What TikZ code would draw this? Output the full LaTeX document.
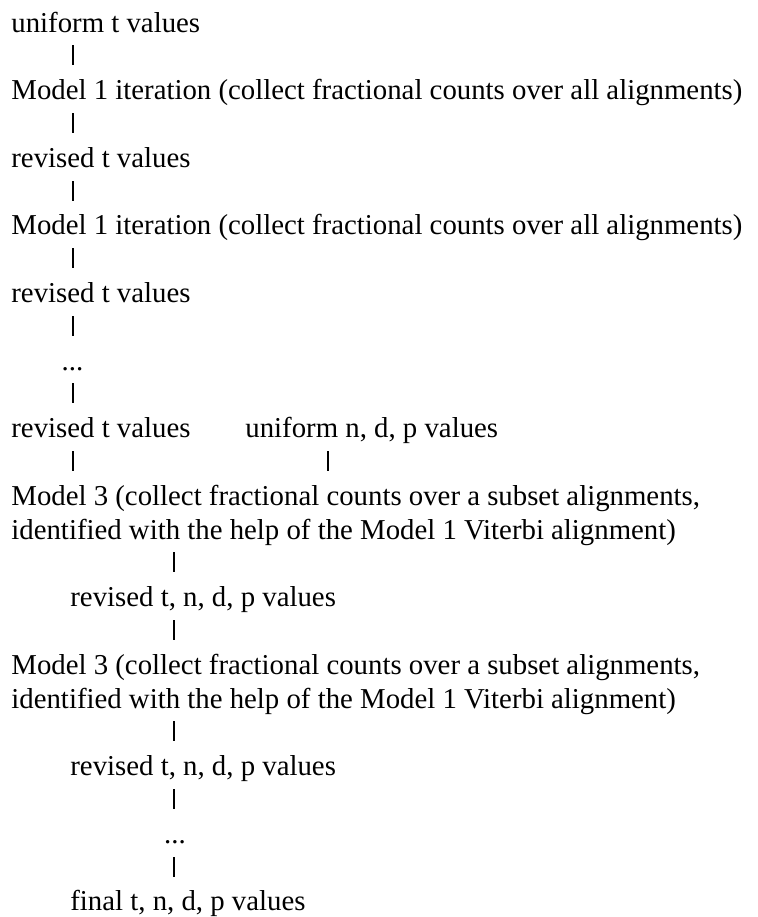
\documentclass[tikz,border=0pt]{standalone}
\usepackage{fontspec}
\setmainfont{Liberation Serif}
\begin{document}
\begin{tikzpicture}[x=0.5pt,y=-0.5pt,
  txt/.style={anchor=base west,inner sep=0pt,font=\fontsize{14.4}{17}\selectfont},
  dots/.style={anchor=base,inner sep=0pt,font=\fontsize{14.4}{17}\selectfont},
  bar/.style={fill=black,draw=none,inner sep=0pt,minimum width=1pt,minimum height=10pt,anchor=south}]
\useasboundingbox (0,0) rectangle (757,917);
\fill[white] (0,0) rectangle (757,917);
\node[txt] (r0) at (11,32) {uniform t values};
\node[bar] (b1) at (72.5,65.8) {};
\node[txt] (r2) at (11,99.6) {Model 1 iteration (collect fractional counts over all alignments)};
\node[bar] (b3) at (72.5,133.4) {};
\node[txt] (r4) at (11,167.2) {revised t values};
\node[bar] (b5) at (72.5,201) {};
\node[txt] (r6) at (11,234.8) {Model 1 iteration (collect fractional counts over all alignments)};
\node[bar] (b7) at (72.5,268.6) {};
\node[txt] (r8) at (11,302.4) {revised t values};
\node[bar] (b9) at (72.5,336.2) {};
\node[dots] (r10) at (72.5,370) {...};
\node[bar] (b11) at (72.5,403.8) {};
\node[txt] (r12) at (11,437.6) {revised t values};
\node[txt] (r12b) at (245,437.6) {uniform n, d, p values};
\node[bar] (b13) at (72.5,471.4) {};
\node[bar] (b13b) at (327.5,471.4) {};
\node[txt] (r14) at (11,505.2) {Model 3 (collect fractional counts over a subset alignments,};
\node[txt] (r15) at (11,539) {identified with the help of the Model 1 Viterbi alignment)};
\node[bar] (b16) at (173.5,572.8) {};
\node[txt] (r17) at (70,606.6) {revised t, n, d, p values};
\node[bar] (b18) at (173.5,640.4) {};
\node[txt] (r19) at (11,674.2) {Model 3 (collect fractional counts over a subset alignments,};
\node[txt] (r20) at (11,708) {identified with the help of the Model 1 Viterbi alignment)};
\node[bar] (b21) at (173.5,741.8) {};
\node[txt] (r22) at (70,775.6) {revised t, n, d, p values};
\node[bar] (b23) at (173.5,809.4) {};
\node[dots] (r24) at (175,843.2) {...};
\node[bar] (b25) at (173.5,877) {};
\node[txt] (r26) at (70,910.8) {final t, n, d, p values};
\end{tikzpicture}
\end{document}
